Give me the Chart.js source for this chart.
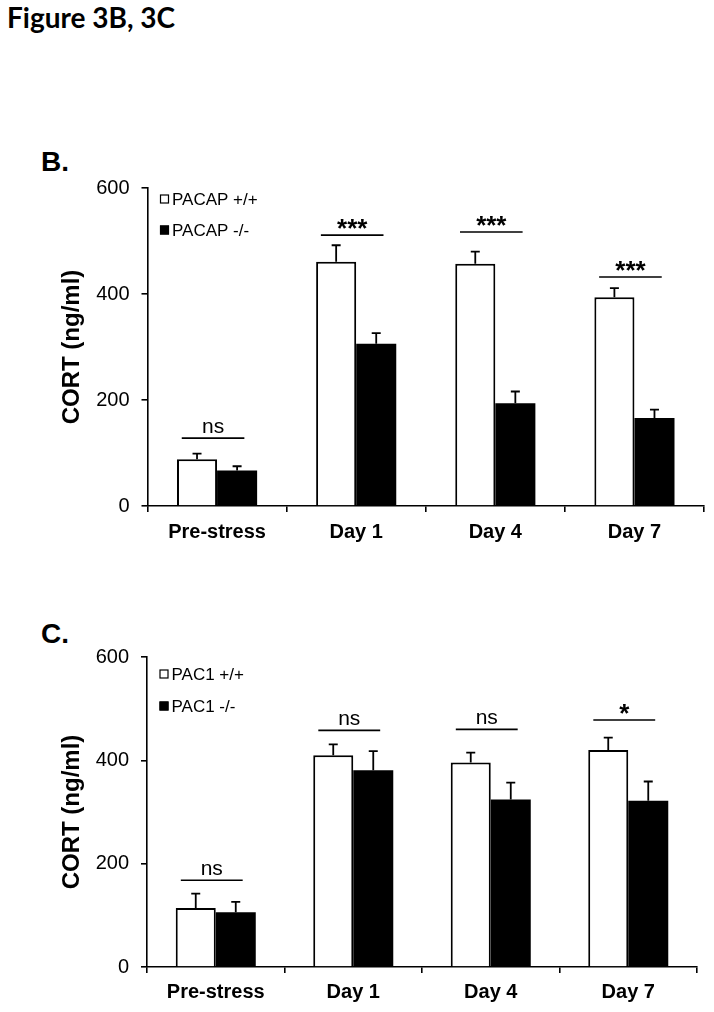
<!DOCTYPE html>
<html>
<head>
<meta charset="utf-8">
<script src="https://cdn.jsdelivr.net/npm/chart.js@4.4.1/dist/chart.umd.min.js"></script>
<style>
  html, body { margin: 0; padding: 0; background: #fff; }
  body { width: 714px; height: 1012px; position: relative; overflow: hidden; }
  .abs { position: absolute; }
  #figTitle { left: 7px; top: 0px; font: bold 28px Lato, "Open Sans", sans-serif; color: #000; white-space: nowrap; }
  .panel { font: bold 28px "Liberation Sans", Arial, sans-serif; color: #000; left: 41px; }
  #panelB { top: 146px; }
  #panelC { top: 618px; }
  #wrapB { left: 0; top: 140px; width: 714px; height: 420px; }
  #wrapC { left: 0; top: 600px; width: 714px; height: 412px; }
</style>
</head>
<body>
<div id="figTitle" class="abs">Figure 3B, 3C</div>
<div id="panelB" class="abs panel">B.</div>
<div id="panelC" class="abs panel">C.</div>
<div id="wrapB" class="abs"><canvas id="chartB" width="714" height="420"></canvas></div>
<div id="wrapC" class="abs"><canvas id="chartC" width="714" height="412"></canvas></div>
<script>
// ---------- data ----------
const categories = ["Pre-stress", "Day 1", "Day 4", "Day 7"];
const yTicks = [0, 200, 400, 600];
const yTitle = "CORT (ng/ml)";

const bSeries = ["PACAP +/+", "PACAP -/-"];
const bWild = [88, 461, 457, 394];
const bWildErr = [11, 31, 23, 17];
const bKo = [67, 306, 194, 166];
const bKoErr = [8, 20, 22, 16];
const bSigLabels = ["ns", "***", "***", "***"];
const bSigLevels = [128, 511, 517, 432];

const cSeries = ["PAC1 +/+", "PAC1 -/-"];
const cWild = [114, 410, 396, 420];
const cWildErr = [28, 21, 19, 24];
const cKo = [106, 381, 324, 322];
const cKoErr = [20, 37, 33, 37];
const cSigLabels = ["ns", "ns", "ns", "*"];
const cSigLevels = [168, 458, 460, 478];

// ---------- plugins ----------
const errorBarPlugin = {
  id: 'errorBars',
  afterDatasetsDraw(chart, args, opts) {
    const ctx = chart.ctx;
    const y = chart.scales.y;
    ctx.save();
    ctx.strokeStyle = '#000';
    ctx.lineWidth = 1.8;
    chart.data.datasets.forEach((ds, i) => {
      const meta = chart.getDatasetMeta(i);
      meta.data.forEach((el, j) => {
        const top = y.getPixelForValue(ds.data[j] + ds.errors[j]);
        ctx.beginPath();
        ctx.moveTo(el.x, el.y);
        ctx.lineTo(el.x, top);
        ctx.moveTo(el.x - 4.5, top);
        ctx.lineTo(el.x + 4.5, top);
        ctx.stroke();
      });
    });
    ctx.restore();
  }
};

const sigPlugin = {
  id: 'sig',
  afterDatasetsDraw(chart, args, opts) {
    const ctx = chart.ctx;
    const x = chart.scales.x, y = chart.scales.y;
    const cw = (chart.chartArea.right - chart.chartArea.left) / categories.length;
    ctx.save();
    ctx.strokeStyle = '#000';
    ctx.fillStyle = '#000';
    ctx.lineWidth = 1.6;
    ctx.textAlign = 'center';
    opts.labels.forEach((lab, i) => {
      const cx = x.getPixelForValue(i) - 4;
      const ly = y.getPixelForValue(opts.levels[i]);
      const hw = cw * 0.225;
      ctx.beginPath();
      ctx.moveTo(cx - hw, ly);
      ctx.lineTo(cx + hw, ly);
      ctx.stroke();
      ctx.textBaseline = 'alphabetic';
      if (lab === 'ns') {
        ctx.font = '21px "Liberation Sans", Arial, sans-serif';
        ctx.fillText(lab, cx, ly - 5);
      } else {
        ctx.font = 'bold 26px "Liberation Sans", Arial, sans-serif';
        ctx.fillText(lab, cx, ly + 2);
      }
    });
    ctx.restore();
  }
};

const legendPlugin = {
  id: 'manualLegend',
  afterDraw(chart, args, opts) {
    const ctx = chart.ctx;
    const a = chart.chartArea;
    ctx.save();
    ctx.font = '17px "Liberation Sans", Arial, sans-serif';
    ctx.textBaseline = 'middle';
    ctx.textAlign = 'left';
    chart.data.datasets.forEach((ds, i) => {
      const cy = a.top + opts.rows[i];
      const bx = a.left + 12.5;
      ctx.fillStyle = ds.backgroundColor;
      ctx.fillRect(bx, cy - 4.5, 9, 9);
      ctx.strokeStyle = '#000';
      ctx.lineWidth = 1.2;
      ctx.strokeRect(bx + 0.5, cy - 4, 8, 8);
      ctx.fillStyle = '#000';
      ctx.fillText(ds.label, bx + 12, cy + 1);
    });
    ctx.restore();
  }
};

function makeChart(id, series, wild, wildErr, ko, koErr, sigLabels, sigLevels, geom) {
  return new Chart(document.getElementById(id), {
    type: 'bar',
    data: {
      labels: categories,
      datasets: [
        { label: series[0], data: wild, errors: wildErr, backgroundColor: '#ffffff', borderColor: '#000', borderWidth: 2,
          barPercentage: 1, categoryPercentage: geom.catPct },
        { label: series[1], data: ko, errors: koErr, backgroundColor: '#000000', borderColor: '#000', borderWidth: 0,
          barPercentage: 1, categoryPercentage: geom.catPct }
      ]
    },
    options: {
      responsive: false,
      animation: false,
      devicePixelRatio: 1,
      layout: { padding: { left: 0, right: geom.padRight, top: geom.padTop, bottom: 0 } },
      plugins: {
        legend: { display: false },
        tooltip: { enabled: false },
        sig: { labels: sigLabels, levels: sigLevels },
        manualLegend: { rows: geom.legendRows }
      },
      scales: {
        x: {
          grid: { display: true, drawOnChartArea: false, drawTicks: true, tickLength: 6, color: '#000', tickColor: '#000', lineWidth: 1.6, offset: true },
          border: { display: true, color: '#000', width: 1.6 },
          ticks: { color: '#000', padding: geom.xPad, font: { family: '"Liberation Sans", Arial, sans-serif', size: 20, weight: 'bold' }, maxRotation: 0, autoSkip: false },
          afterFit: s => { s.height = geom.xHeight; }
        },
        y: {
          min: 0, max: 600,
          afterBuildTicks: s => { s.ticks = yTicks.map(v => ({ value: v })); },
          grid: { display: true, drawOnChartArea: false, drawTicks: true, tickLength: 6, color: '#000', tickColor: '#000', lineWidth: 1.6 },
          border: { display: true, color: '#000', width: 1.6 },
          ticks: { color: '#000', padding: 12, font: { family: '"Liberation Sans", Arial, sans-serif', size: 20 } },
          title: { display: true, text: yTitle, color: '#000', padding: { top: 58, bottom: 0 }, font: { family: '"Liberation Sans", Arial, sans-serif', size: 24, weight: 'bold' } },
          afterFit: s => { s.width = geom.yWidth; }
        }
      }
    },
    plugins: [errorBarPlugin, sigPlugin, legendPlugin]
  });
}

makeChart('chartB', bSeries, bWild, bWildErr, bKo, bKoErr, bSigLabels, bSigLevels,
  { catPct: 0.576, padRight: 10, padTop: 48, xHeight: 54, xPad: 8, yWidth: 147.5, legendRows: [11, 42] });
makeChart('chartC', cSeries, cWild, cWildErr, cKo, cKoErr, cSigLabels, cSigLevels,
  { catPct: 0.582, padRight: 17, padTop: 57, xHeight: 45, xPad: 7, yWidth: 147, legendRows: [17, 49] });
</script>
</body>
</html>
